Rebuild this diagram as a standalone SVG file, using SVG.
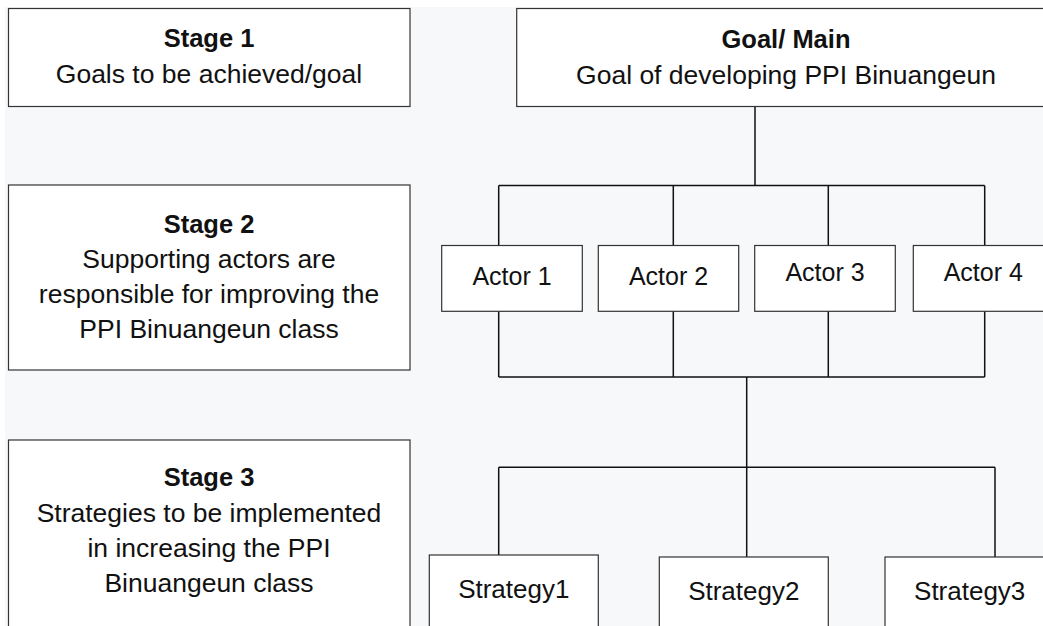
<svg xmlns="http://www.w3.org/2000/svg" width="1043" height="626" viewBox="0 0 1043 626">
<style>
.box{fill:#ffffff;stroke:#333333;stroke-width:1.2}
.t{font-family:"Liberation Sans",Arial,sans-serif;font-size:26.5px;fill:#111111;text-anchor:middle}
.b{font-weight:bold;font-size:25.5px}
.a{font-size:25px}
.s{font-size:26px}
.c{fill:none;stroke:#111111;stroke-width:1.5}
</style>
<rect x="0" y="0" width="1043" height="626" fill="#ffffff"/>
<rect x="5" y="7" width="1038" height="619" fill="#f7f8fa"/>
<g id="connectors">
<path class="c" d="M755 106.5 V185.5"/>
<path class="c" d="M498.7 185.5 H984.7"/>
<path class="c" d="M498.7 185.5 V245.5 M673.3 185.5 V245.5 M828.3 185.5 V245.5 M984.7 185.5 V245.5"/>
<path class="c" d="M498.7 311.3 V377 M673.3 311.3 V377 M828.3 311.3 V377 M984.7 311.3 V377"/>
<path class="c" d="M498.7 377 H984.7"/>
<path class="c" d="M746.7 377 V557"/>
<path class="c" d="M498.7 467.3 H995"/>
<path class="c" d="M498.7 467.3 V555 M995 467.3 V557"/>
</g>
<g id="stage1">
<rect class="box" x="8.5" y="8.5" width="401.5" height="98"/>
<text class="t b" x="209" y="47">Stage 1</text>
<text class="t" x="209" y="82.5">Goals to be achieved/goal</text>
</g>
<g id="goal">
<rect class="box" x="516.7" y="8.5" width="540" height="98"/>
<text class="t b" x="786" y="48">Goal/ Main</text>
<text class="t" x="786" y="84">Goal of developing PPI Binuangeun</text>
</g>
<g id="stage2">
<rect class="box" x="8.5" y="185" width="401.5" height="185"/>
<text class="t b" x="209" y="233.3">Stage 2</text>
<text class="t" x="209" y="268.3">Supporting actors are</text>
<text class="t" x="209" y="303.3">responsible for improving the</text>
<text class="t" x="209" y="338.3">PPI Binuangeun class</text>
</g>
<g id="actor1">
<rect class="box" x="441.7" y="245.5" width="140.6" height="65.8"/>
<text class="t a" x="512" y="285">Actor 1</text>
</g>
<g id="actor2">
<rect class="box" x="598.3" y="245.5" width="140.4" height="65.8"/>
<text class="t a" x="668.5" y="285">Actor 2</text>
</g>
<g id="actor3">
<rect class="box" x="754.7" y="245.5" width="140.6" height="65.8"/>
<text class="t a" x="825" y="280.7">Actor 3</text>
</g>
<g id="actor4">
<rect class="box" x="913.3" y="245.5" width="140" height="65.8"/>
<text class="t a" x="983.3" y="280.7">Actor 4</text>
</g>
<g id="stage3">
<rect class="box" x="8.5" y="440" width="401.5" height="200"/>
<text class="t b" x="209" y="486">Stage 3</text>
<text class="t" x="209" y="521.7">Strategies to be implemented</text>
<text class="t" x="209" y="556.7">in increasing the PPI</text>
<text class="t" x="209" y="591.7">Binuangeun class</text>
</g>
<g id="strategy1">
<rect class="box" x="429.3" y="555" width="169" height="90"/>
<text class="t s" x="513.8" y="598.3">Strategy1</text>
</g>
<g id="strategy2">
<rect class="box" x="659.3" y="557" width="169" height="90"/>
<text class="t s" x="743.8" y="600">Strategy2</text>
</g>
<g id="strategy3">
<rect class="box" x="885" y="557" width="169" height="90"/>
<text class="t s" x="969.7" y="600">Strategy3</text>
</g>
</svg>
